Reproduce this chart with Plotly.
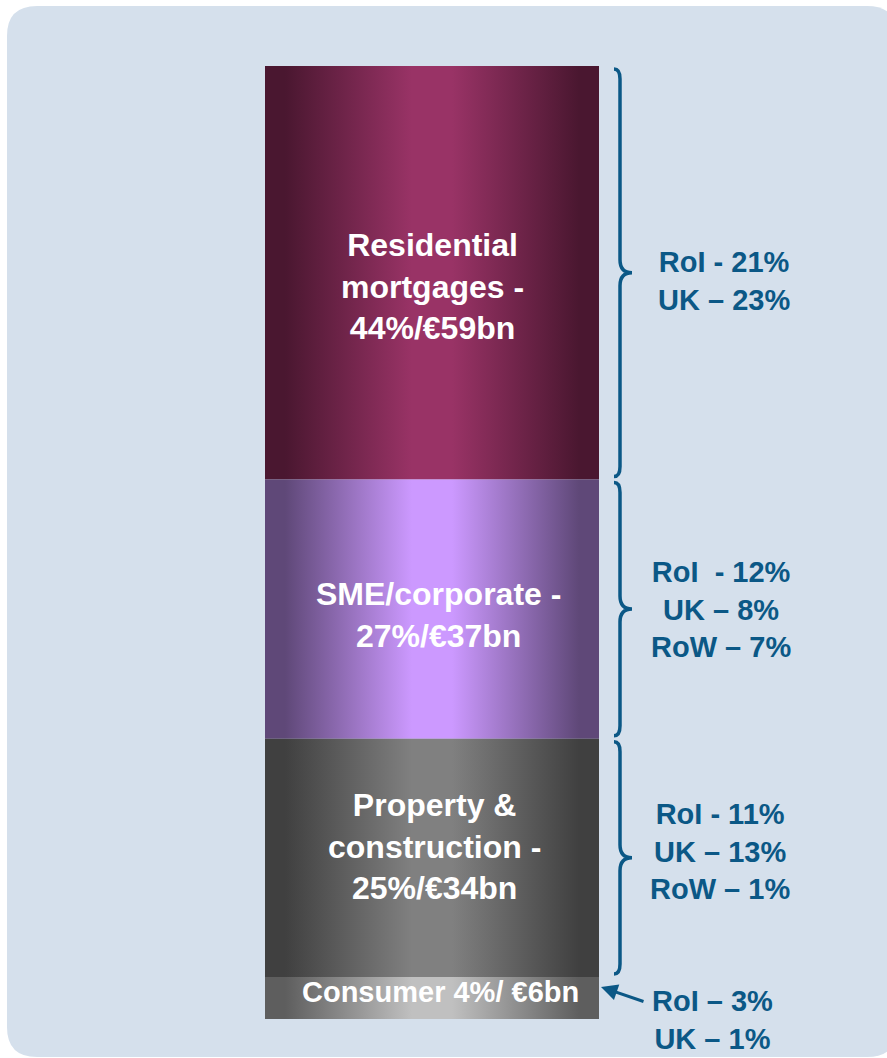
import plotly.graph_objects as go

# ---------------- data ----------------
segments = ["Residential mortgages", "SME/corporate", "Property & construction", "Consumer"]
share_pct = [44, 27, 25, 4]
value_bn = [59, 37, 34, 6]
label_names = ["Residential<br>mortgages -<br>", "SME/corporate -<br>", "Property &<br>construction -<br>", "Consumer "]
label_sep = ["/€", "/€", "/€", "/ €"]
geo_labels = [
    "RoI - 21%<br>UK – 23%",
    "RoI\u00a0\u00a0- 12%<br>UK – 8%<br>RoW – 7%",
    "RoI - 11%<br>UK – 13%<br>RoW – 1%",
    "RoI – 3%<br>UK – 1%",
]

# ---------------- styling ----------------
W, H = 887, 1058
BAR_L, BAR_R = 265, 599
PX_TOP, PX_BOT = 66, 1019
dark = ["#4a1730", "#5f4878", "#404040", "#5e5e5e"]
light = ["#993366", "#cc99ff", "#808080", "#c0c0c0"]
label_size = [32, 32, 32, 29]
label_yshift = [-14, -6, 11, 6]
label_xshift = [0, 6, 2, 8]
geo_yshift = [-8, 0, 6, -22]
geo_x = [724, 721, 720, 712]
BLUE = "#0b5886"
BG = "#d5e0ec"
FONT = "Liberation Sans, Arial, sans-serif"

total = sum(value_bn)
scale = (PX_BOT - PX_TOP) / total  # px per bn
y_range = [-(H - PX_BOT) / scale, total + PX_TOP / scale]

fig = go.Figure()

# stack from bottom: consumer first
n = len(segments)
bases = [0.0] * n
acc = 0.0
for i in reversed(range(n)):
    bases[i] = acc
    acc += value_bn[i]

for i in range(n):
    b = bases[i]
    t = b + value_bn[i]
    cs = [[0, dark[i]], [0.06, dark[i]], [0.44, light[i]], [0.56, light[i]],
          [0.94, dark[i]], [1, dark[i]]]
    fig.add_trace(go.Scatter(
        x=[BAR_L, BAR_R, BAR_R, BAR_L, BAR_L],
        y=[b, b, t, t, b],
        fill="toself", mode="lines",
        line=dict(width=0, color="rgba(0,0,0,0)"),
        fillgradient=dict(type="horizontal", colorscale=cs),
        hoverinfo="skip", showlegend=False, name=segments[i],
    ))
    mid = (b + t) / 2
    fig.add_annotation(
        x=(BAR_L + BAR_R) / 2, y=mid, xref="x", yref="y",
        text=f"{label_names[i]}{share_pct[i]}%{label_sep[i]}{value_bn[i]}bn",
        showarrow=False, align="center",
        font=dict(family=FONT, size=label_size[i], color="white", weight="bold"),
        yshift=label_yshift[i], xshift=label_xshift[i],
    )
    fig.add_annotation(
        x=geo_x[i], y=mid, xref="x", yref="y",
        text=geo_labels[i], showarrow=False, align="center",
        font=dict(family=FONT, size=29, color=BLUE, weight="bold"),
        yshift=geo_yshift[i],
    )
    if i < n - 1:
        gap = 3 / scale
        top = t - gap
        bot = b + gap
        re_ = 10 / scale
        rm = 13 / scale
        x0, x1, x2 = 614, 620, 632
        path = (f"M {x0},{top} Q {x1},{top} {x1},{top - re_} "
                f"L {x1},{mid + rm} Q {x1},{mid} {x2},{mid} "
                f"Q {x1},{mid} {x1},{mid - rm} "
                f"L {x1},{bot + re_} Q {x1},{bot} {x0},{bot}")
        fig.add_shape(type="path", path=path, xref="x", yref="y",
                      line=dict(color=BLUE, width=3.5))
    else:
        fig.add_annotation(
            x=BAR_R + 2, y=mid, xref="x", yref="y", text="",
            showarrow=True, arrowhead=2, arrowsize=1.1, arrowwidth=3,
            arrowcolor=BLUE, ax=44, ay=15, yshift=11,
        )

# rounded background panel (paper coords)
def rrect(l, t, r, b, rad):
    px = lambda v: v / W
    py = lambda v: 1 - v / H
    return (f"M {px(l + rad)},{py(t)} L {px(r - rad)},{py(t)} "
            f"Q {px(r)},{py(t)} {px(r)},{py(t + rad)} "
            f"L {px(r)},{py(b - rad)} Q {px(r)},{py(b)} {px(r - rad)},{py(b)} "
            f"L {px(l + rad)},{py(b)} Q {px(l)},{py(b)} {px(l)},{py(b - rad)} "
            f"L {px(l)},{py(t + rad)} Q {px(l)},{py(t)} {px(l + rad)},{py(t)} Z")

fig.add_shape(type="path", path=rrect(7, 6, 897, 1057, 30), xref="paper", yref="paper",
              fillcolor=BG, line=dict(width=0), layer="below")

fig.update_layout(
    width=W, height=H,
    margin=dict(l=0, r=0, t=0, b=0),
    paper_bgcolor="white", plot_bgcolor="white",
    xaxis=dict(range=[0, W], visible=False, fixedrange=True),
    yaxis=dict(range=y_range, visible=False, fixedrange=True),
    showlegend=False,
)

fig.write_html("out.html", config={"displayModeBar": False},
               post_script="document.body.style.margin='0';document.body.style.overflow='hidden';")
